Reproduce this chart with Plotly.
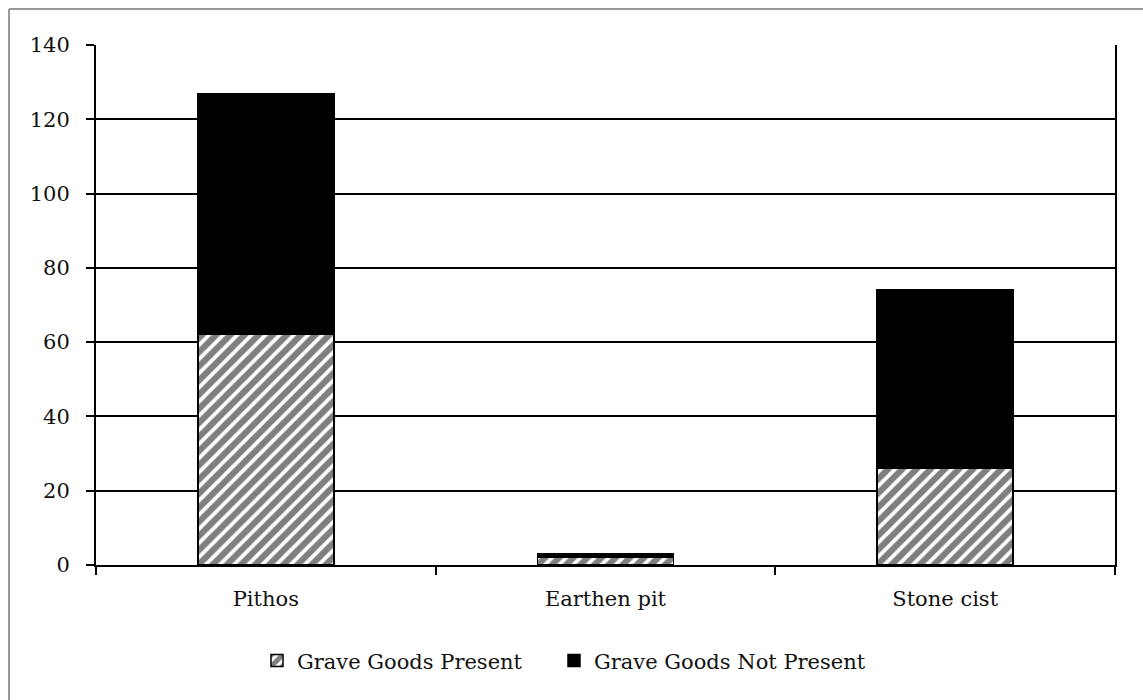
import plotly.graph_objects as go

# Grave types and counts of burials with / without grave goods
grave_types = ["Pithos", "Earthen pit", "Stone cist"]
goods_present = [62, 2, 26]
goods_not_present = [65, 1, 48]

y_ticks = [0, 20, 40, 60, 80, 100, 120, 140]

FONT = "DejaVu Serif"
FS = 21
PLOT_W, PLOT_H = 1019, 520
M_L, M_B = 96, 135

fig = go.Figure()
fig.add_trace(go.Bar(
    x=grave_types, y=goods_present, name="Grave Goods Present",
    marker=dict(color="white",
                line=dict(color="black", width=1.5),
                pattern=dict(shape="/", fgcolor="black", bgcolor="white",
                             size=10, solidity=0.62)),
    width=0.4, legend="legend",
))
fig.add_trace(go.Bar(
    x=grave_types, y=goods_not_present, name="Grave Goods Not Present",
    marker=dict(color="black", line=dict(color="black", width=1.5)),
    width=0.4, legend="legend2",
))

legend_style = dict(orientation="h", xanchor="left", y=-0.145, yanchor="top",
                    font=dict(family=FONT, size=FS), itemwidth=30,
                    bgcolor="rgba(0,0,0,0)")

fig.update_layout(
    barmode="stack",
    width=1143, height=700,
    margin=dict(l=M_L, r=28, t=45, b=M_B),
    paper_bgcolor="white", plot_bgcolor="white",
    font=dict(family=FONT, size=FS, color="#111111"),
    showlegend=True,
    legend=dict(x=(257 - M_L) / PLOT_W, **legend_style),
    legend2=dict(x=(554 - M_L) / PLOT_W, **legend_style),
    xaxis=dict(showline=True, linecolor="black", linewidth=2,
               ticks="outside", ticklen=8, tickwidth=2, tickcolor="black",
               tickson="boundaries", showgrid=False, ticklabelstandoff=14,
               tickfont=dict(family=FONT, size=FS)),
    yaxis=dict(range=[0, 140], tickvals=y_ticks, showline=True,
               linecolor="black", linewidth=2, mirror=True,
               ticks="outside", ticklen=8, tickwidth=2, tickcolor="black",
               showgrid=True, gridcolor="black", gridwidth=2,
               ticklabelstandoff=12,
               tickfont=dict(family=FONT, size=FS), zeroline=False),
)

# Outer frame edges (top and left)
frame_top = (700 - 9 - M_B) / PLOT_H
frame_left = (9 - M_L) / PLOT_W
fig.add_shape(type="line", xref="paper", yref="paper",
              x0=frame_left, x1=1.1, y0=frame_top, y1=frame_top,
              line=dict(color="#999999", width=2))
fig.add_shape(type="line", xref="paper", yref="paper",
              x0=frame_left, x1=frame_left, y0=-0.5, y1=frame_top,
              line=dict(color="#999999", width=2))

fig.write_html("out.html")
